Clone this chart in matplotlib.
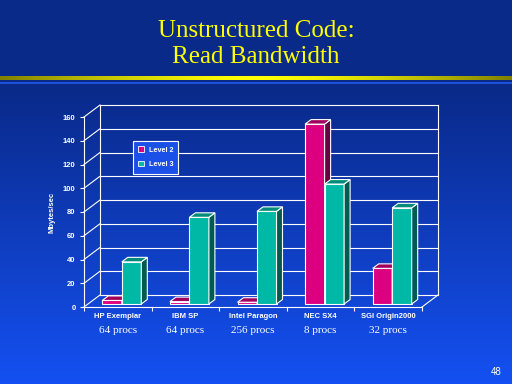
import numpy as np
import matplotlib
matplotlib.use('Agg')
import matplotlib.pyplot as plt
from matplotlib.patches import Polygon, Patch

# données
machines = ['HP Exemplar', 'IBM SP', 'Intel Paragon', 'NEC SX4', 'SGI Origin2000']
procs = ['64 procs', '64 procs', '256 procs', '8 procs', '32 procs']
level2 = [3, 2, 1.5, 151.5, 30]   # Mbytes/sec
level3 = [35.5, 73, 78, 101, 81]
yticks = [0, 20, 40, 60, 80, 100, 120, 140, 160]

# couleurs (face, dessus, côté)
c2 = ('#dc0080', '#a0005c', '#6a0040')
c3 = ('#00b8a6', '#008c78', '#005c50')

W, H = 512, 384
fig = plt.figure(figsize=(W/100, H/100), dpi=100)

# fond: bandeau + dégradé
bg = fig.add_axes([0, 0, 1, 1])
bg.axis('off')
top = np.array([0x0a, 0x2a, 0x8a]) / 255
bot = np.array([0x14, 0x50, 0xf2]) / 255
yy = np.arange(H)
t = np.clip((yy - 90) / (H - 90), 0, 1)[:, None]
grad = top*(1-t) + bot*t
bg.imshow(grad[:, None, :], extent=(0, W, H, 0), aspect='auto')

# ligne jaune
xx = np.linspace(-1, 1, 256)
k = 1 - np.abs(xx)**1.5
yel = np.stack([0.5+0.5*k, 0.5+0.5*k, 0*k], axis=1)
bg.imshow(yel[None, :, :], extent=(0, W, 80, 76), aspect='auto')
bg.imshow(np.array([[[0x20/255, 0x50/255, 0xd8/255]]]),
          extent=(0, W, 84, 82), aspect='auto')
bg.set_xlim(0, W)
bg.set_ylim(H, 0)

bg.text(W/2, 37, 'Unstructured Code:', color='#ffff00', fontsize=18,
        family='Liberation Serif', ha='center', va='baseline')
bg.text(W/2, 63, 'Read Bandwidth', color='#ffff00', fontsize=18,
        family='Liberation Serif', ha='center', va='baseline')
bg.text(502, 375, '48', color='white', fontsize=7,
        family='Liberation Sans', ha='right', va='baseline')

# axes du graphique (plan avant)
x0, x1, y0, y1 = 84, 422, 307, 117
ax = fig.add_axes([x0/W, 1-y0/H, (x1-x0)/W, (y0-y1)/H])
ax.set_facecolor('none')
n = len(machines)
ax.set_xlim(0, n)
ax.set_ylim(0, 160)
DX = 16/(x1-x0)*n       # profondeur en x
DY = 12/(y0-y1)*160     # profondeur en y
lw = 0.8

for s in ['top', 'right']:
    ax.spines[s].set_visible(False)
for s in ['left', 'bottom']:
    ax.spines[s].set_color('white')
    ax.spines[s].set_linewidth(lw)

ax.set_yticks(yticks)
ax.set_yticklabels([str(v) for v in yticks], fontsize=5.5, color='white',
                   family='Liberation Sans', fontweight='bold')
ax.tick_params(axis='y', colors='white', length=3, width=lw, pad=3)
ax.set_xticks(np.arange(n+1))
ax.set_xticklabels([])
ax.tick_params(axis='x', which='major', colors='white', length=3, width=lw)
ax.set_xticks(np.arange(n)+0.5, minor=True)
ax.set_xticklabels(machines, minor=True, fontsize=5.5, color='white',
                   family='Liberation Sans', fontweight='bold')
ax.tick_params(axis='x', which='minor', length=0, pad=4)
ax.set_ylabel('Mbytes/sec', fontsize=5.5, color='white',
              family='Liberation Sans', fontweight='bold', labelpad=5)

for i, p in enumerate(procs):
    ax.text(i+0.5, -20, p, color='white', fontsize=8,
            family='Liberation Serif', ha='center', va='center')

# paroi du fond et grille
for v in yticks:
    ax.plot([DX, n+DX], [v+DY, v+DY], color='white', lw=lw, clip_on=False)
    ax.plot([0, DX], [v, v+DY], color='white', lw=lw, clip_on=False)
ax.plot([DX, DX], [DY, 160+DY], color='white', lw=lw, clip_on=False)
ax.plot([n+DX, n+DX], [DY, 160+DY], color='white', lw=lw, clip_on=False)
ax.plot([n, n+DX], [0, DY], color='white', lw=lw, clip_on=False)

# barres 3D
w = 19.5/(x1-x0)*n
f0, f1 = 0.25, 0.625
ddx, ddy = (f1-f0)*DX, (f1-f0)*DY
base = f0*DY


def bar3d(xl, v, cols):
    xr = xl + w
    ax.bar(xl, v, width=w, bottom=base, align='edge', color=cols[0],
           edgecolor='white', linewidth=lw, zorder=3, clip_on=False)
    side = [(xr, base), (xr+ddx, base+ddy), (xr+ddx, base+v+ddy), (xr, base+v)]
    topf = [(xl, base+v), (xl+ddx, base+v+ddy), (xr+ddx, base+v+ddy), (xr, base+v)]
    ax.add_patch(Polygon(side, closed=True, facecolor=cols[2],
                         edgecolor='white', lw=lw, zorder=3, clip_on=False))
    ax.add_patch(Polygon(topf, closed=True, facecolor=cols[1],
                         edgecolor='white', lw=lw, zorder=3, clip_on=False))


for i in range(n):
    xl = i + 0.5 - w + f0*DX
    bar3d(xl, level2[i], c2)
    bar3d(xl + w, level3[i], c3)

handles = [Patch(facecolor=c2[0], edgecolor='white', lw=0.6),
           Patch(facecolor=c3[0], edgecolor='white', lw=0.6)]
leg = fig.legend(handles, ['Level 2', 'Level 3'], loc='upper left',
                 bbox_to_anchor=(133/W, 1-141/H), borderaxespad=0,
                 labelcolor='white', fancybox=False, framealpha=1,
                 facecolor='#1a50e8', edgecolor='white',
                 handlelength=0.8, handleheight=0.8, handletextpad=0.6,
                 labelspacing=1.0, borderpad=0.75,
                 prop={'family': 'Liberation Sans', 'weight': 'bold', 'size': 5.2})
leg.get_frame().set_linewidth(lw)
leg.set_zorder(5)

fig.savefig('out.png', dpi=100)
